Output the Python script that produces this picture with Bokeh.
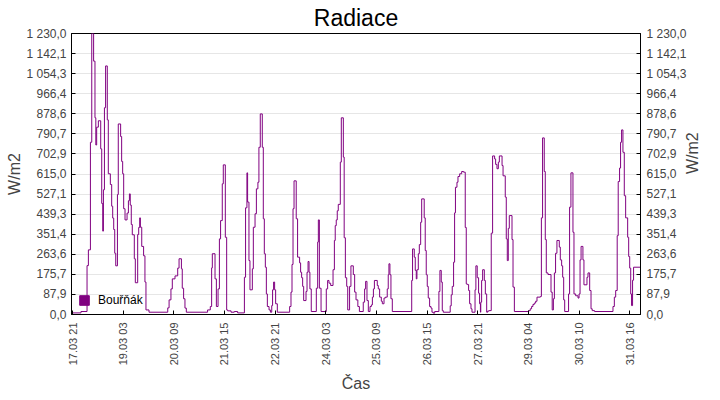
import math
from bokeh.plotting import figure
from bokeh.models import (Range1d, LinearAxis, FixedTicker, Legend, LegendItem,
                          ColumnDataSource)
from bokeh.embed import file_html
from bokeh.resources import INLINE

# time in hours since 17.03 21:00, value at which each step starts
hours = [-0.6, 5.0, 8.6, 9.4, 10.6, 11.4, 12.5, 13.3, 13.8, 14.3, 15.3, 16.7, 17.3, 17.9, 18.3,
         18.9, 19.6, 20.6, 21.2, 22.4, 23.2, 23.8, 24.4, 25.0, 25.6, 26.6, 27.1, 28.5, 29.1,
         29.7, 30.3, 31.1, 32.3, 33.1, 33.7, 34.2, 34.8, 35.4, 36.6, 37.2, 38.6, 39.2, 39.8,
         40.2, 41.0, 42.1, 42.9, 43.5, 45.3, 56.4, 57.2, 58.3, 59.1, 60.7, 62.3, 63.1, 64.5,
         65.0, 65.8, 66.6, 67.4, 80.0, 81.6, 82.4, 82.8, 84.4, 85.2, 86.2, 87.0, 87.7, 88.7,
         89.3, 90.5, 91.3, 91.9, 93.9, 95.8, 97.8, 101.8, 102.5, 103.3, 103.7, 104.5, 105.1,
         106.5, 107.1, 108.1, 108.9, 109.8, 110.4, 111.2, 112.4, 113.0, 113.6, 114.2, 114.8,
         115.4, 116.4, 117.2, 118.0, 118.5, 119.1, 119.7, 120.3, 121.3, 128.6, 129.4, 130.0,
         130.6, 131.2, 132.5, 133.3, 134.5, 135.1, 135.7, 136.3, 136.9, 138.3, 138.9, 139.5,
         140.1, 140.6, 141.4, 144.4, 145.2, 145.6, 146.2, 147.2, 150.3, 151.1, 151.9, 152.9,
         154.3, 155.1, 155.6, 156.2, 156.8, 157.4, 158.6, 159.2, 160.4, 160.9, 161.6, 162.4,
         163.0, 164.1, 164.9, 166.3, 167.1, 167.9, 169.0, 169.9, 172.2, 173.0, 173.6, 174.4,
         175.2, 176.2, 177.0, 177.6, 178.2, 178.8, 180.5, 181.1, 181.9, 182.9, 183.5, 184.5,
         185.3, 186.4, 187.0, 187.4, 188.0, 188.6, 189.4, 200.9, 201.4, 202.4, 203.0, 203.6,
         204.0, 204.8, 205.4, 206.2, 206.8, 208.3, 208.9, 209.5, 210.1, 210.7, 211.5, 212.3,
         212.9, 213.7, 214.5, 217.0, 217.6, 218.4, 219.0, 219.6, 223.7, 224.3, 224.9, 225.7,
         226.3, 226.8, 227.7, 228.3, 229.3, 230.5, 231.6, 232.6, 233.2, 233.8, 234.6, 235.2,
         236.0, 236.6, 238.4, 238.9, 239.7, 240.5, 241.1, 241.6, 241.8, 242.3, 242.9, 243.9,
         244.5, 245.3, 245.9, 246.7, 248.0, 248.8, 250.0, 250.6, 251.4, 252.2, 252.8, 254.4,
         255.0, 256.3, 256.9, 257.5, 258.1, 258.7, 260.3, 260.9, 261.7, 270.2, 271.1, 271.9,
         272.7, 273.5, 274.3, 275.1, 277.1, 277.7, 278.4, 279.4, 280.0, 280.6, 281.6, 283.4,
         284.1, 284.8, 285.4, 286.1, 286.9, 288.3, 288.9, 289.7, 290.3, 290.9, 291.5, 293.8,
         294.4, 295.2, 296.4, 297.0, 298.0, 299.4, 300.0, 300.6, 301.2, 302.3, 302.9, 304.7,
         305.3, 306.3, 307.1, 307.8, 309.2, 320.1, 320.9, 321.7, 322.6, 323.2, 324.0, 324.6,
         325.2, 326.0, 326.8, 327.6, 328.8, 329.4, 330.0, 330.6, 331.1, 331.7, 332.3, 336.4]

radiation = [7, 13, 214, 283, 754, 1230, 1109, 861, 742, 820, 848, 725, 486, 365, 546,
             905, 1088, 852, 616, 569, 474, 422, 372, 268, 213, 525, 834, 779, 670,
             616, 463, 414, 444, 498, 528, 479, 394, 349, 244, 139, 350, 381, 423,
             382, 298, 257, 142, 20, 10, 29, 64, 112, 156, 169, 203, 244, 200,
             115, 69, 28, 10, 20, 35, 204, 266, 156, 35, 112, 331, 411, 572,
             655, 338, 20, 16, 10, 13, 7, 163, 467, 620, 492, 236, 108,
             200, 382, 441, 550, 579, 732, 878, 732, 419, 266, 207, 90,
             35, 20, 10, 39, 108, 142, 108, 47, 10, 35, 98, 219,
             463, 585, 419, 251, 226, 185, 161, 123, 61, 101, 185, 232,
             185, 112, 13, 115, 317, 414, 115, 13, 112, 149, 137, 127,
             196, 324, 389, 414, 454, 482, 667, 861, 689, 336, 161, 123,
             20, 123, 213, 175, 98, 64, 35, 13, 54, 112, 145, 61,
             13, 35, 42, 76, 112, 149, 127, 112, 76, 58, 47, 72,
             76, 112, 174, 222, 174, 69, 13, 149, 287, 251, 193, 156,
             196, 266, 306, 404, 506, 423, 280, 174, 123, 72, 35, 28,
             10, 6, 13, 101, 193, 142, 17, 10, 38, 86, 123, 229,
             445, 557, 579, 604, 616, 626, 623, 381, 134, 131, 105, 47,
             25, 10, 108, 213, 161, 93, 47, 10, 54, 149, 196, 149,
             90, 10, 15, 17, 356, 694, 681, 657, 638, 667, 694, 652,
             607, 514, 331, 236, 377, 433, 328, 120, 13, 17, 25, 35,
             44, 50, 58, 76, 79, 423, 773, 626, 328, 182, 175, 98,
             20, 69, 182, 268, 324, 295, 239, 213, 163, 64, 13, 90,
             470, 620, 360, 90, 82, 72, 90, 239, 298, 239, 130, 163,
             182, 105, 25, 17, 13, 35, 76, 105, 345, 582, 641, 754,
             808, 710, 520, 423, 338, 254, 203, 90, 39, 150, 207, 207]

x_tick_hours = [0, 30, 60, 90, 120, 150, 180, 210, 240, 270, 300, 330]
x_tick_labels = ["17.03 21", "19.03 03", "20.03 09", "21.03 15", "22.03 21", "24.03 03",
                 "25.03 09", "26.03 15", "27.03 21", "29.03 04", "30.03 10", "31.03 16"]
y_tick_labels = ["0,0", "87,9", "175,7", "263,6", "351,4", "439,3", "527,1", "615,0",
                 "702,9", "790,7", "878,6", "966,4", "1 054,3", "1 142,1", "1 230,0"]
y_max = 1230.0
series_name = "Bouřňák"

FONT = "Liberation Sans"
LABEL_COLOR = "#444444"
PURPLE = "#800080"

p = figure(frame_width=569, frame_height=281, output_backend="svg", toolbar_location=None,
           x_range=Range1d(-0.6, 336.4), y_range=Range1d(0, y_max),
           min_border_left=0, min_border_right=0, min_border_top=0,
           min_border_bottom=0)
p.margin = (0, 0, 0, 3)
p.background_fill_color = "white"
p.border_fill_color = "white"
p.outline_line_color = "black"
p.outline_line_width = 1

p.title.text = "Radiace"
p.title.align = "center"
p.title.text_font = FONT
p.title.text_font_size = "23px"
p.title.text_font_style = "normal"
p.title.text_color = "black"
p.title.standoff = 5
p.title.offset = 0

src = ColumnDataSource(dict(hours=hours, radiation=radiation))
p.step(x="hours", y="radiation", source=src, mode="after",
       line_color=PURPLE, line_width=1)

y_ticks = [i * y_max / (len(y_tick_labels) - 1) for i in range(len(y_tick_labels))]
y_over = {y_ticks[i]: y_tick_labels[i] for i in range(len(y_ticks))}
x_over = {x_tick_hours[i]: x_tick_labels[i] for i in range(len(x_tick_hours))}

right = LinearAxis()
p.add_layout(right, "right")

for ax in [p.yaxis[0], right]:
    ax.ticker = FixedTicker(ticks=y_ticks)
    ax.major_label_overrides = y_over
    ax.axis_label = "W/m2"

for ax in list(p.yaxis) + list(p.xaxis):
    ax.major_tick_in = 4
    ax.major_tick_out = 0
    ax.minor_tick_line_color = None
    ax.axis_line_color = "black"
    ax.major_tick_line_color = "black"
    ax.major_label_text_font = FONT
    ax.major_label_text_font_size = "12px"
    ax.major_label_text_color = LABEL_COLOR
    ax.axis_label_text_font = FONT
    ax.axis_label_text_font_size = "16px"
    ax.axis_label_text_font_style = "normal"
    ax.axis_label_text_color = LABEL_COLOR
    ax.major_label_standoff = 5

p.yaxis[0].axis_label_standoff = 0
right.axis_label_standoff = 3
right.major_label_standoff = 6

if "axis_label_orientation" in right.properties():
    right.axis_label_orientation = math.pi / 2

xa = p.xaxis[0]
xa.ticker = FixedTicker(ticks=x_tick_hours)
xa.major_label_overrides = x_over
xa.major_label_orientation = math.pi / 2
xa.major_label_text_font_size = "11px"
xa.major_label_standoff = 8
xa.axis_label = "Čas"
xa.axis_label_standoff = 7

p.xgrid.grid_line_color = None
p.ygrid.ticker = FixedTicker(ticks=y_ticks)
p.ygrid.grid_line_color = "#e6e6e6"
p.ygrid.grid_line_width = 1

nan = float("nan")
dummy = p.quad(left=[nan], right=[nan], top=[nan], bottom=[nan],
               fill_color=PURPLE, line_color=PURPLE)
legend = Legend(items=[LegendItem(label=series_name, renderers=[dummy])],
                location="bottom_left", border_line_color=None,
                background_fill_alpha=0, margin=7, padding=4,
                glyph_width=12, glyph_height=12, label_standoff=8,
                label_text_font=FONT, label_text_font_size="12px",
                label_text_color="black", label_height=12)
p.add_layout(legend)

open("out.html", "w").write(file_html(p, INLINE))
